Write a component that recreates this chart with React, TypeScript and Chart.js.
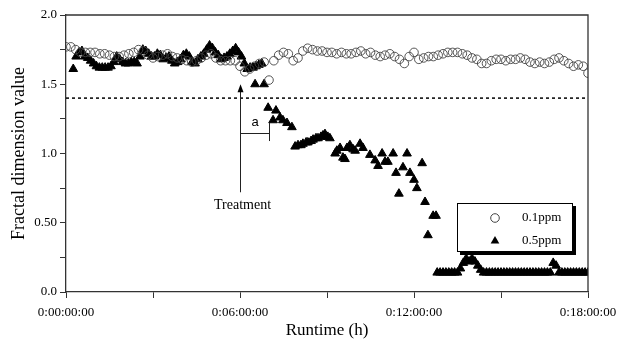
import React, { useEffect, useRef } from "react";
import { Chart, registerables } from "chart.js";

Chart.register(...registerables);

// ---------- data ----------
const seriesNames = ["0.1ppm", "0.5ppm"];

// 0.1 ppm: one reading every 10 minutes from 0 h to 18 h
const circleStepHours = 10 / 60;
const circleValues = [
  1.77, 1.77, 1.75, 1.73, 1.73, 1.73, 1.73, 1.72, 1.72, 1.71, 1.70, 1.70,
  1.71, 1.72, 1.73, 1.75, 1.74, 1.71, 1.69, 1.70, 1.71, 1.72, 1.70, 1.69,
  1.68, 1.67, 1.66, 1.67, 1.69, 1.71, 1.72, 1.69, 1.67, 1.67, 1.67, 1.67,
  1.63, 1.59, 1.61, 1.63, 1.65, 1.66, 1.53, 1.67, 1.71, 1.73, 1.72, 1.67,
  1.69, 1.74, 1.76, 1.75, 1.74, 1.74, 1.73, 1.73, 1.72, 1.73, 1.72, 1.72,
  1.73, 1.74, 1.72, 1.73, 1.71, 1.70, 1.71, 1.72, 1.70, 1.68, 1.65, 1.70,
  1.73, 1.68, 1.69, 1.70, 1.70, 1.71, 1.72, 1.73, 1.73, 1.73, 1.72, 1.71,
  1.69, 1.68, 1.65, 1.65, 1.67, 1.68, 1.68, 1.67, 1.68, 1.68, 1.69, 1.68,
  1.66, 1.65, 1.66, 1.65, 1.66, 1.68, 1.69, 1.67, 1.65, 1.63, 1.64, 1.63,
  1.58,
];

// 0.5 ppm: runtime (h) and value
const triHours = [
  0.25, 0.35, 0.45, 0.55, 0.65, 0.75, 0.85, 0.95,
  1.05, 1.15, 1.25, 1.35, 1.45, 1.55, 1.65, 1.75, 1.85, 1.95,
  2.05, 2.15, 2.25, 2.35, 2.45, 2.55, 2.65, 2.75, 2.85, 2.95,
  3.05, 3.15, 3.25, 3.35, 3.45, 3.55, 3.65, 3.75, 3.85, 3.95,
  4.05, 4.15, 4.25, 4.35, 4.45, 4.55, 4.65, 4.75, 4.85, 4.95,
  5.05, 5.15, 5.25, 5.35, 5.45, 5.55, 5.65, 5.75, 5.85, 5.95,
  6.05, 6.15, 6.25, 6.35, 6.45, 6.55, 6.65, 6.75,
  6.52, 6.83,
  6.97, 7.14, 7.24, 7.38, 7.48, 7.62, 7.79,
  7.90, 8.00, 8.10, 8.17, 8.28, 8.34, 8.45, 8.52, 8.62, 8.69, 8.79, 8.86, 8.93, 9.03, 9.10,
  9.28, 9.34, 9.45, 9.55, 9.62, 9.69, 9.79, 9.90, 9.97, 10.14, 10.24, 10.48, 10.66, 10.76,
  10.90, 11.00, 11.10, 11.28, 11.38, 11.48, 11.62, 11.76, 11.86, 12.00, 12.10, 12.28,
  12.38, 12.48, 12.66, 12.76,
  12.8, 12.9, 13.0, 13.1, 13.2, 13.3, 13.4, 13.5,
  13.6, 13.7, 13.8, 13.9, 14.0, 14.1, 14.2, 14.3,
  14.4, 14.5, 14.6, 14.7, 14.8, 14.9, 15.0, 15.1, 15.2, 15.3, 15.4, 15.5,
  15.6, 15.7, 15.8, 15.9, 16.0, 16.1, 16.2, 16.3, 16.4, 16.5, 16.6, 16.7,
  16.8, 16.9,
  17.0, 17.1, 17.2, 17.3, 17.4, 17.5, 17.6, 17.7, 17.8, 17.9, 18.0,
];
const triValues = [
  1.61, 1.70, 1.73, 1.74, 1.70, 1.69, 1.67, 1.65,
  1.63, 1.62, 1.62, 1.62, 1.62, 1.63, 1.66, 1.70, 1.68, 1.66,
  1.65, 1.65, 1.66, 1.66, 1.65, 1.70, 1.75, 1.74, 1.72, 1.70,
  1.70, 1.72, 1.71, 1.68, 1.69, 1.70, 1.67, 1.65, 1.66, 1.68,
  1.71, 1.72, 1.70, 1.66, 1.65, 1.68, 1.70, 1.72, 1.75, 1.78,
  1.76, 1.73, 1.71, 1.68, 1.69, 1.70, 1.72, 1.74, 1.76, 1.73,
  1.70, 1.65, 1.61, 1.62, 1.62, 1.63, 1.64, 1.65,
  1.50, 1.50,
  1.33, 1.24, 1.31, 1.26, 1.24, 1.22, 1.19,
  1.05, 1.06, 1.06, 1.07, 1.08, 1.08, 1.09, 1.10, 1.11, 1.11, 1.12, 1.13, 1.14, 1.12, 1.11,
  1.00, 1.02, 1.04, 0.97, 0.96, 1.04, 1.06, 1.03, 1.02, 1.07, 1.04, 0.99, 0.95, 0.91,
  1.00, 0.94, 0.94, 1.00, 0.86, 0.71, 0.90, 1.00, 0.86, 0.81, 0.75, 0.93,
  0.65, 0.41, 0.55, 0.55,
  0.14, 0.14, 0.14, 0.14, 0.14, 0.14, 0.14, 0.14,
  0.17, 0.21, 0.24, 0.22, 0.24, 0.22, 0.19, 0.16,
  0.14, 0.14, 0.14, 0.14, 0.14, 0.14, 0.14, 0.14, 0.14, 0.14, 0.14, 0.14,
  0.14, 0.14, 0.14, 0.14, 0.14, 0.14, 0.14, 0.14, 0.14, 0.14, 0.14, 0.14,
  0.21, 0.19,
  0.14, 0.14, 0.14, 0.14, 0.14, 0.14, 0.14, 0.14, 0.14, 0.14, 0.14,
];

const thresholdHours = [0, 18];
const thresholdValue = 1.4;

const xTickLabels: Record<string, string> = {
  "0": "0:00:00:00",
  "6": "0:06:00:00",
  "12": "0:12:00:00",
  "18": "0:18:00:00",
};
const yTickLabels: Record<string, string> = {
  "0": "0.0",
  "0.5": "0.50",
  "1": "1.0",
  "1.5": "1.5",
  "2": "2.0",
};

const xTitle = "Runtime (h)";
const yTitle = "Fractal dimension value";
const treatmentHour = 6;
const treatmentLabel = "Treatment";
const lagEndHour = 7;
const lagLabel = "a";

const SERIF = "'Liberation Serif', 'Times New Roman', serif";
const SANS = "'Liberation Sans', Arial, sans-serif";

const overlayPlugin = {
  id: "overlay",
  afterDraw(chart: any) {
    const { ctx, chartArea: a, scales } = chart;
    const x = scales.x;
    const y = scales.y;
    ctx.save();

    // frame (top and right)
    ctx.strokeStyle = "#333";
    ctx.lineWidth = 1.3;
    ctx.beginPath();
    ctx.moveTo(a.left, a.top);
    ctx.lineTo(a.right, a.top);
    ctx.lineTo(a.right, a.bottom);
    ctx.stroke();

    // treatment arrow
    const tx = Math.round(x.getPixelForValue(treatmentHour)) + 0.5;
    const yTop = y.getPixelForValue(1.5);
    const yBot = y.getPixelForValue(0.72);
    ctx.strokeStyle = "#222";
    ctx.lineWidth = 1;
    ctx.beginPath();
    ctx.moveTo(tx, yBot);
    ctx.lineTo(tx, yTop + 6);
    ctx.stroke();
    ctx.fillStyle = "#000";
    ctx.beginPath();
    ctx.moveTo(tx, yTop);
    ctx.lineTo(tx - 3, yTop + 8);
    ctx.lineTo(tx + 3, yTop + 8);
    ctx.closePath();
    ctx.fill();

    ctx.font = `14px ${SERIF}`;
    ctx.textAlign = "center";
    ctx.textBaseline = "middle";
    ctx.fillText(treatmentLabel, tx + 2, y.getPixelForValue(0.625));

    // lag bracket "a"
    const bx = Math.round(x.getPixelForValue(lagEndHour)) + 0.5;
    const by = Math.round(y.getPixelForValue(1.15)) + 0.5;
    ctx.beginPath();
    ctx.moveTo(tx, by);
    ctx.lineTo(bx, by);
    ctx.moveTo(bx, y.getPixelForValue(1.22));
    ctx.lineTo(bx, y.getPixelForValue(1.09));
    ctx.stroke();
    ctx.font = `13px ${SANS}`;
    ctx.fillText(lagLabel, (tx + bx) / 2, y.getPixelForValue(1.225));

    // axis titles
    ctx.font = `17px ${SERIF}`;
    ctx.fillText(xTitle, (a.left + a.right) / 2, 331);
    ctx.save();
    ctx.translate(19, (a.top + a.bottom) / 2);
    ctx.rotate(-Math.PI / 2);
    ctx.font = `18px ${SERIF}`;
    ctx.fillText(yTitle, 0, 0);
    ctx.restore();

    // legend box with shadow
    const lw = 116;
    const lh = 49;
    const lx = a.right - 131;
    const ly = a.top + 188;
    ctx.fillStyle = "#000";
    ctx.fillRect(lx + 3, ly + 3, lw, lh);
    ctx.fillStyle = "#fff";
    ctx.fillRect(lx, ly, lw, lh);
    ctx.strokeStyle = "#000";
    ctx.lineWidth = 1;
    ctx.strokeRect(lx + 0.5, ly + 0.5, lw - 1, lh - 1);

    const mx = lx + 38;
    // circle marker
    ctx.strokeStyle = "#444";
    ctx.beginPath();
    ctx.arc(mx, ly + 15, 4.3, 0, Math.PI * 2);
    ctx.stroke();
    // triangle marker
    ctx.fillStyle = "#000";
    const r = 5;
    const ty = ly + 38;
    ctx.beginPath();
    ctx.moveTo(mx, ty - r);
    ctx.lineTo(mx + r * 0.866, ty + r / 2);
    ctx.lineTo(mx - r * 0.866, ty + r / 2);
    ctx.closePath();
    ctx.fill();

    ctx.fillStyle = "#000";
    ctx.font = `13px ${SERIF}`;
    ctx.textAlign = "left";
    ctx.fillText(seriesNames[0], lx + 65, ly + 15);
    ctx.fillText(seriesNames[1], lx + 65, ly + 38);

    ctx.restore();
  },
};

export default function App() {
  const canvasRef = useRef<HTMLCanvasElement | null>(null);

  useEffect(() => {
    const canvas = canvasRef.current;
    if (!canvas) return;

    const circleData = circleValues.map((v, i) => ({ x: i * circleStepHours, y: v }));
    const triData = triHours.map((h, i) => ({ x: h, y: triValues[i] }));
    const thresholdData = thresholdHours.map((h) => ({ x: h, y: thresholdValue }));

    const chart = new Chart(canvas, {
      type: "scatter",
      data: {
        datasets: [
          {
            label: "threshold",
            data: thresholdData,
            showLine: true,
            borderColor: "#000",
            borderWidth: 1.5,
            borderDash: [3, 3],
            pointRadius: 0,
            order: 3,
          },
          {
            label: seriesNames[1],
            data: triData,
            pointStyle: "triangle",
            pointRadius: 5,
            pointBackgroundColor: "#000",
            pointBorderColor: "#000",
            pointBorderWidth: 1,
            order: 2,
          },
          {
            label: seriesNames[0],
            data: circleData,
            pointStyle: "circle",
            pointRadius: 4.3,
            pointBackgroundColor: "rgba(255,255,255,0)",
            pointBorderColor: "#444",
            pointBorderWidth: 0.9,
            order: 1,
          },
        ],
      },
      options: {
        animation: false,
        responsive: false,
        devicePixelRatio: 1,
        layout: { padding: { left: 0, top: 15, right: 32, bottom: 0 } },
        plugins: {
          legend: { display: false },
          tooltip: { enabled: false },
        },
        scales: {
          x: {
            type: "linear",
            min: 0,
            max: 18,
            grid: {
              drawOnChartArea: false,
              drawTicks: true,
              tickLength: 6,
              color: "#333",
            },
            border: { display: true, color: "#333", width: 1.3 },
            ticks: {
              stepSize: 3,
              autoSkip: false,
              maxRotation: 0,
              padding: 7,
              color: "#000",
              font: { family: SERIF, size: 13 },
              callback: (v: any) => xTickLabels[String(v)] ?? "",
            },
            afterFit: (s: any) => {
              s.height = 58;
              s.paddingLeft = 0;
              s.paddingRight = 0;
            },
          },
          y: {
            min: 0,
            max: 2,
            grid: {
              drawOnChartArea: false,
              drawTicks: true,
              tickLength: 6,
              color: "#333",
            },
            border: { display: true, color: "#333", width: 1.3 },
            ticks: {
              stepSize: 0.25,
              autoSkip: false,
              padding: 3,
              color: "#000",
              font: { family: SERIF, size: 13 },
              callback: (v: any) => yTickLabels[String(v)] ?? "",
            },
            afterFit: (s: any) => {
              s.width = 66;
              s.paddingTop = 0;
              s.paddingBottom = 0;
            },
          },
        },
      },
      plugins: [overlayPlugin],
    });

    return () => chart.destroy();
  }, []);

  return (
    <div style={{ position: "fixed", left: 0, top: 0, width: 620, height: 350, background: "#fff" }}>
      <canvas ref={canvasRef} width={620} height={350} style={{ display: "block" }} />
    </div>
  );
}
